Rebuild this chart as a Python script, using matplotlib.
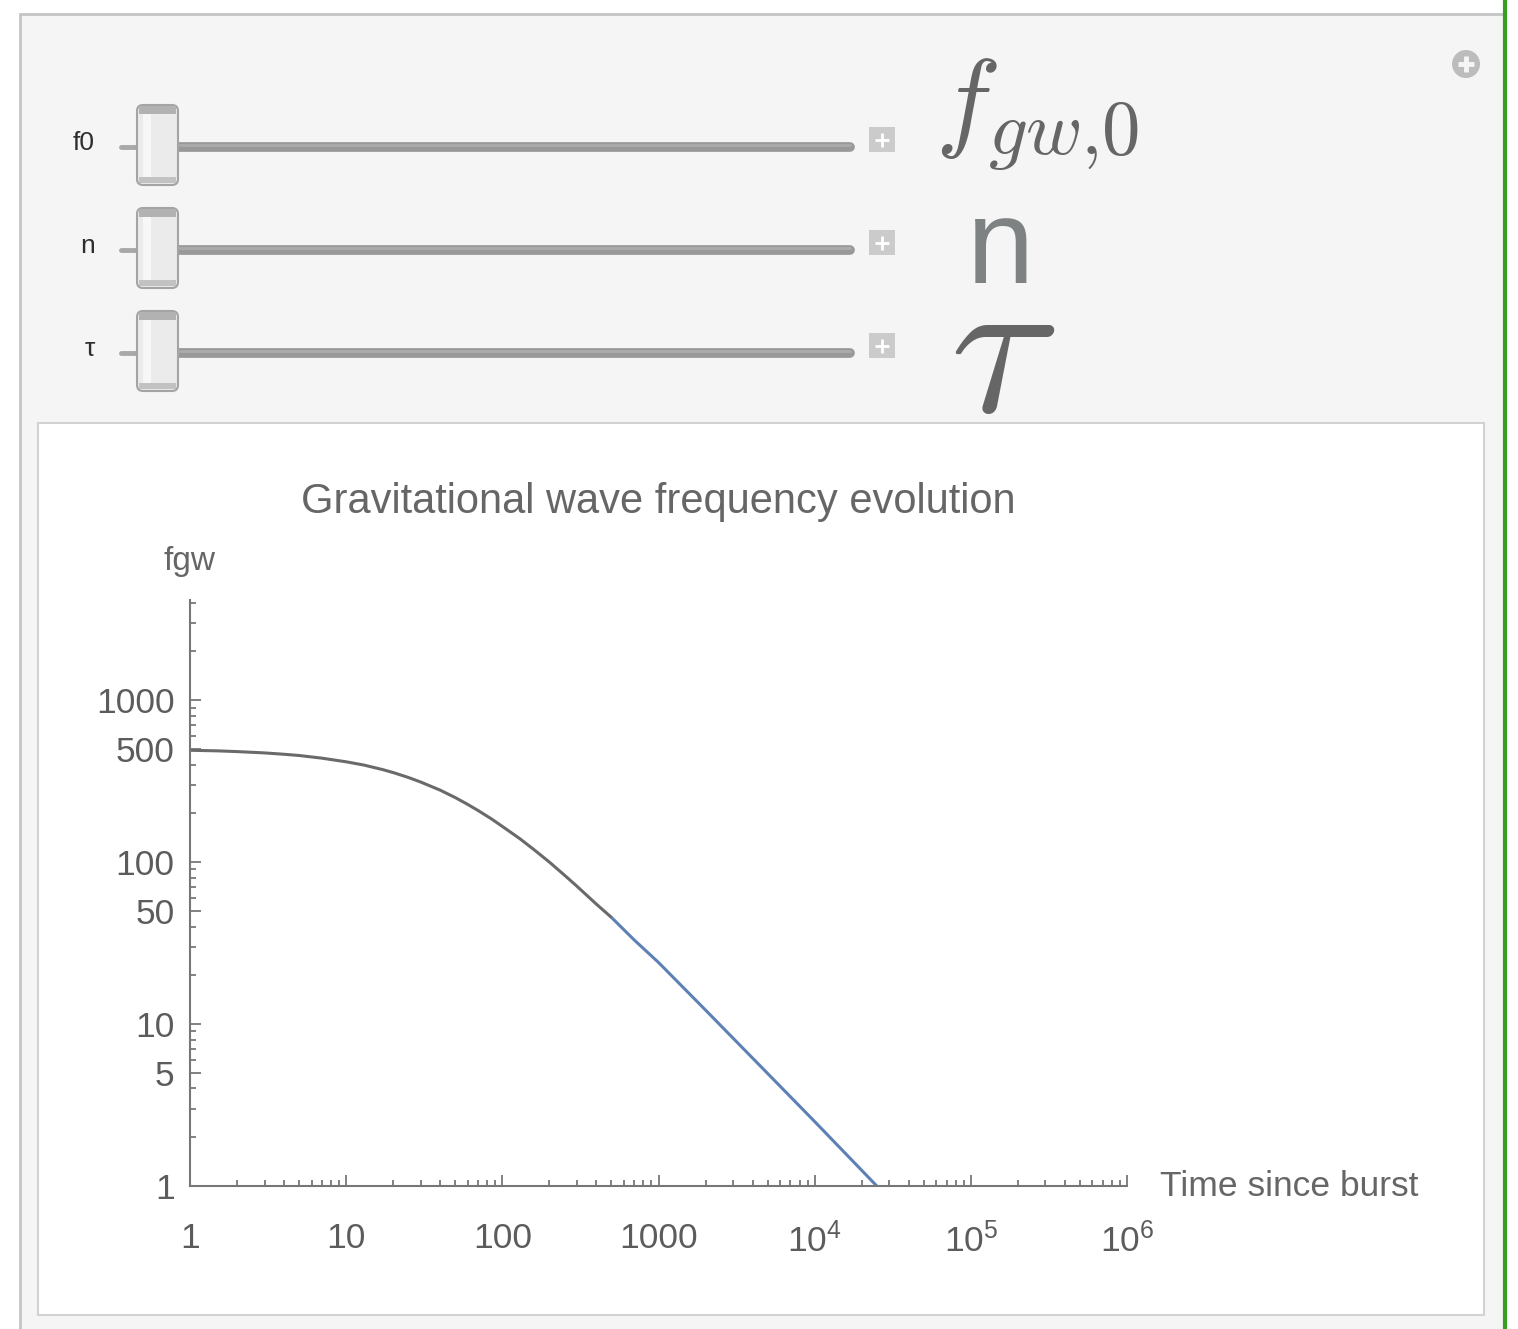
import matplotlib
matplotlib.use("Agg")
import matplotlib.pyplot as plt
from matplotlib.patches import Rectangle, FancyBboxPatch, Circle
from matplotlib.ticker import FixedLocator, FixedFormatter, LogLocator, NullFormatter
import numpy as np

plt.rcParams['font.family'] = ['Liberation Sans', 'DejaVu Sans']
plt.rcParams['mathtext.fontset'] = 'custom'
plt.rcParams['mathtext.rm'] = 'Liberation Sans'
plt.rcParams['mathtext.it'] = 'Liberation Sans:italic'

# frequency
time_since_burst = [1, 1.5, 2, 3, 4, 5, 7, 10, 13, 17, 20, 25, 30, 40, 50, 60, 70,
                    85, 100, 130, 160, 200, 250, 300, 400, 500, 700, 1000, 2000,
                    5000, 10000, 25000]
fgw = [490, 486, 481, 472, 463, 455, 438, 416, 397, 373, 357, 333, 312, 278, 250,
       227, 208, 185, 166, 139, 119, 100, 83, 71, 55, 45.5, 33, 24, 12.2,
       4.95, 2.5, 1.0]
color_switch_time = 500

x_ticks = [1, 10, 100, 1000, 1e4, 1e5, 1e6]
x_tick_labels = ["1", "10", "100", "1000", r"$10^{4}$", r"$10^{5}$", r"$10^{6}$"]
y_ticks = [1, 5, 10, 50, 100, 500, 1000]
y_tick_labels = ["1", "5", "10", "50", "100", "500", "1000"]

slider_names = ["f0", "n", "τ"]
slider_symbols = [r"$f_{gw{,}0}$", r"$\mathregular{n}$", r"$\tau$"]

W, H = 1518, 1329
fig = plt.figure(figsize=(W / 100, H / 100), dpi=100)
fig.patch.set_facecolor('white')

# background layer in pixel coordinates (y down)
bg = fig.add_axes([0, 0, 1, 1], zorder=0)
bg.set_xlim(0, W)
bg.set_ylim(H, 0)
bg.axis('off')

bg.add_patch(Rectangle((20, 14), 1485, 1340, fc='#f5f5f5', ec='#c4c4c4', lw=2))
bg.add_patch(Rectangle((38, 423), 1446, 892, fc='white', ec='#d2d2d2', lw=1.5))
bg.plot([1505, 1505], [0, H], color='#33a020', lw=3, solid_capstyle='butt')

# options icon, top right
bg.add_patch(Circle((1466, 64), 14, fc='#bcbcbc', ec='none'))
bg.plot([1458, 1474], [64, 64], color='#f5f5f5', lw=3.5, solid_capstyle='butt')
bg.plot([1466, 1466], [56, 72], color='#f5f5f5', lw=3.5, solid_capstyle='butt')

# slider controls
track_y = [147, 250, 353]
for name, symbol, y in zip(slider_names, slider_symbols, track_y):
    bg.text(95, y - 4, name, ha='right', va='center', fontsize=19, color='#2e2e2e')
    bg.plot([121, 140], [y, y], color='#a8a8a8', lw=3.5, solid_capstyle='round')
    bg.plot([175, 850], [y, y], color='#999999', lw=7, solid_capstyle='round')
    bg.plot([175, 850], [y - 2, y - 2], color='#ababab', lw=2, solid_capstyle='round')
    # thumb
    ty = y - 2
    bg.add_patch(FancyBboxPatch((137, ty - 40), 41, 80, boxstyle='round,pad=0,rounding_size=6',
                                fc='#ebebeb', ec='#a4a4a4', lw=1.5, zorder=3))
    bg.add_patch(Rectangle((139, ty - 39), 37, 8, fc='#b2b2b2', ec='none', zorder=4))
    bg.add_patch(Rectangle((139, ty + 32), 37, 6, fc='#c2c2c2', ec='none', zorder=4))
    bg.add_patch(Rectangle((143, ty - 31), 8, 63, fc='#f7f7f7', ec='none', zorder=4))
    # increment box
    bg.add_patch(Rectangle((869, y - 20), 26, 25, fc='#cbcbcb', ec='none'))
    bg.plot([875, 889], [y - 7.5, y - 7.5], color='white', lw=2, solid_capstyle='butt')
    bg.plot([882, 882], [y - 14.5, y - 0.5], color='white', lw=2, solid_capstyle='butt')

bg.text(935, 136, slider_symbols[0], ha='left', va='baseline', fontsize=79,
        color='#666666', math_fontfamily='cm')
bg.text(966, 283, slider_symbols[1], ha='left', va='baseline', fontsize=87,
        color='#7e8282')
bg.text(950, 412, slider_symbols[2], ha='left', va='baseline', fontsize=145,
        color='#666666', math_fontfamily='cm')

# the plot itself
ax = fig.add_axes([190 / W, 1 - 1186 / H, 937 / W, 586 / H], zorder=1)
ax.patch.set_alpha(0)
ax.set_xscale('log')
ax.set_yscale('log')

t = np.array(time_since_burst, dtype=float)
f = np.array(fgw, dtype=float)
early = t <= color_switch_time
late = t >= color_switch_time
ax.plot(t[early], f[early], color='#6a6a6a', lw=2.2, solid_capstyle='round')
ax.plot(t[late], f[late], color='#5e81b5', lw=2.2, solid_capstyle='butt')

ax.set_xlim(1, 1e6)
ax.set_ylim(1, 4150)
for side in ('top', 'right'):
    ax.spines[side].set_visible(False)
for side in ('left', 'bottom'):
    ax.spines[side].set_color('#777777')
    ax.spines[side].set_linewidth(1.5)

ax.xaxis.set_major_locator(FixedLocator(x_ticks))
ax.xaxis.set_major_formatter(FixedFormatter(x_tick_labels))
ax.xaxis.set_minor_locator(LogLocator(base=10, subs=range(2, 10), numticks=20))
ax.xaxis.set_minor_formatter(NullFormatter())
ax.yaxis.set_major_locator(FixedLocator(y_ticks))
ax.yaxis.set_major_formatter(FixedFormatter(y_tick_labels))
ax.yaxis.set_minor_locator(LogLocator(base=10, subs=[2, 3, 4, 6, 7, 8, 9], numticks=20))
ax.yaxis.set_minor_formatter(NullFormatter())

ax.tick_params(which='both', direction='in', color='#777777', width=1.3,
               labelcolor='#5c5c5c', labelsize=25.5)
ax.tick_params(which='major', length=8)
ax.tick_params(which='minor', length=4)
ax.tick_params(axis='x', which='major', pad=26)
ax.tick_params(axis='y', which='major', pad=11)

ax.text(0.5, 1.167, "Gravitational wave frequency evolution", transform=ax.transAxes,
        ha='center', va='center', fontsize=30, color='#666666')
ax.text(0.0, 1.065, "fgw", transform=ax.transAxes, ha='center', va='center',
        fontsize=24, color='#666666')
ax.text(1.035, 0.0, "Time since burst", transform=ax.transAxes, ha='left', va='center',
        fontsize=25.5, color='#666666')

fig.savefig("out.png", dpi=100)
